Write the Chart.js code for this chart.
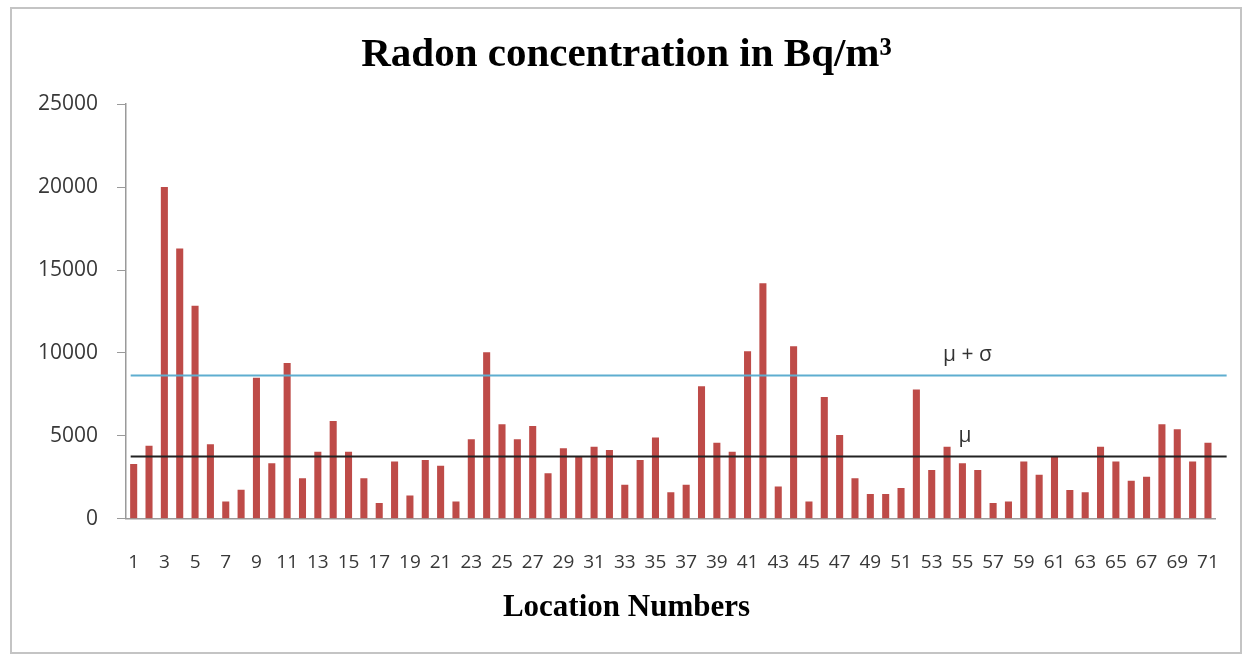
<!DOCTYPE html>
<html>
<head>
<meta charset="utf-8">
<title>Radon concentration</title>
<script src="https://cdn.jsdelivr.net/npm/chart.js@4/dist/chart.umd.min.js"></script>
<style>
  html, body { margin: 0; padding: 0; background: #fff; }
  #wrap { position: relative; width: 1243px; height: 655px; }
</style>
</head>
<body>
<div id="wrap"><canvas id="radonChart"></canvas></div>
<script>
// ── Data ─────────────────────────────────────────────────────
const LOCATIONS = [
  '1','2','3','4','5','6','7','8','9','10','11','12','13','14','15','16','17','18',
  '19','20','21','22','23','24','25','26','27','28','29','30','31','32','33','34','35','36',
  '37','38','39','40','41','42','43','44','45','46','47','48','49','50','51','52','53','54',
  '55','56','57','58','59','60','61','62','63','64','65','66','67','68','69','70','71'
];

const RADON = [
  3300, 4400, 20000, 16300, 12850, 4500, 1050, 1750, 8500, 3350,
  9400, 2450, 4050, 5900, 4050, 2450, 950, 3450, 1400, 3550,
  3200, 1050, 4800, 10050, 5700, 4800, 5600, 2750, 4250, 3750,
  4350, 4150, 2050, 3550, 4900, 1600, 2050, 8000, 4580, 4050,
  10100, 14200, 1950, 10400, 1050, 7350, 5050, 2450, 1500, 1500,
  1850, 7800, 2950, 4350, 3350, 2950, 950, 1050, 3450, 2650,
  3750, 1730, 1600, 4350, 3450, 2300, 2530, 5700, 5400, 3450,
  4580
];

const Y_TICKS = [0, 5000, 10000, 15000, 20000, 25000];

// reference lines: mean and mean + one standard deviation
const REF_VALUES = [3780, 8700];
const REF_LABELS = ['μ', 'μ + σ'];
const REF_COLORS = ['#222222', '#5eaed0'];
const REF_LABEL_AT = [54, 53];   // category index the label starts at

// ── Plugins ──────────────────────────────────────────────────
const frameBorder = {
  id: 'frameBorder',
  beforeDraw(chart) {
    const { ctx } = chart;
    ctx.save();
    ctx.strokeStyle = '#c4c4c4';
    ctx.lineWidth = 2;
    ctx.strokeRect(11, 8, chart.width - 13, chart.height - 10);
    ctx.restore();
  }
};

const refLines = {
  id: 'refLines',
  afterDatasetsDraw(chart) {
    const { ctx, scales: { x, y } } = chart;
    ctx.save();
    REF_VALUES.forEach((v, i) => {
      const py = Math.round(y.getPixelForValue(v)) + 0.5;
      ctx.strokeStyle = REF_COLORS[i];
      ctx.lineWidth = 2;
      ctx.beginPath();
      ctx.moveTo(x.getPixelForValue(0) - 3, py);
      ctx.lineTo(x.right + 11, py);
      ctx.stroke();

      ctx.fillStyle = '#333';
      ctx.font = '21px "Open Sans", sans-serif';
      ctx.textAlign = 'left';
      ctx.textBaseline = 'middle';
      ctx.fillText(REF_LABELS[i], x.getPixelForValue(REF_LABEL_AT[i]) - 4, py - 20);
    });
    ctx.restore();
  }
};

// ── Chart ────────────────────────────────────────────────────
const tickFont = { family: '"Open Sans", sans-serif', size: 19 };

new Chart(document.getElementById('radonChart').getContext('2d'), {
  type: 'bar',
  data: {
    labels: LOCATIONS,
    datasets: [{
      label: 'Radon concentration',
      data: RADON,
      backgroundColor: '#be4b48',
      borderWidth: 0,
      barPercentage: 1,
      categoryPercentage: 0.46
    }]
  },
  options: {
    responsive: true,
    maintainAspectRatio: false,
    animation: false,
    layout: { padding: { top: 7, left: 34, right: 24, bottom: 0 } },
    plugins: {
      legend: { display: false },
      tooltip: { enabled: false },
      title: {
        display: true,
        text: 'Radon concentration in Bq/m³',
        color: '#000',
        font: { family: '"Liberation Serif", serif', size: 41, weight: 'bold' },
        padding: { top: 24, bottom: 24 }
      },
      subtitle: {
        display: true,
        position: 'bottom',
        text: 'Location Numbers',
        color: '#000',
        font: { family: '"Liberation Serif", serif', size: 31, weight: 'bold' },
        padding: { top: 0, bottom: 28 }
      }
    },
    scales: {
      y: {
        min: 0,
        max: 25000,
        afterBuildTicks: scale => { scale.ticks = Y_TICKS.map(v => ({ value: v })); },
        afterFit: scale => { scale.width = 92; },
        grid: { drawOnChartArea: false, drawTicks: true, tickLength: 9, color: '#9a9a9a' },
        border: { display: true, color: '#9a9a9a', width: 1.5 },
        ticks: {
          color: '#383838',
          font: { family: '"Open Sans", sans-serif', size: 21 },
          padding: 19,
          callback: v => String(v)
        }
      },
      x: {
        afterFit: scale => { scale.height = 71; },
        grid: { display: false },
        border: { display: true, color: '#9a9a9a', width: 1.5 },
        ticks: {
          color: '#383838',
          font: tickFont,
          autoSkip: false,
          maxRotation: 0,
          padding: 24,
          callback: (val, i) => (i % 2 === 0 ? LOCATIONS[i] : '')
        }
      }
    }
  },
  plugins: [frameBorder, refLines]
});
</script>
</body>
</html>
